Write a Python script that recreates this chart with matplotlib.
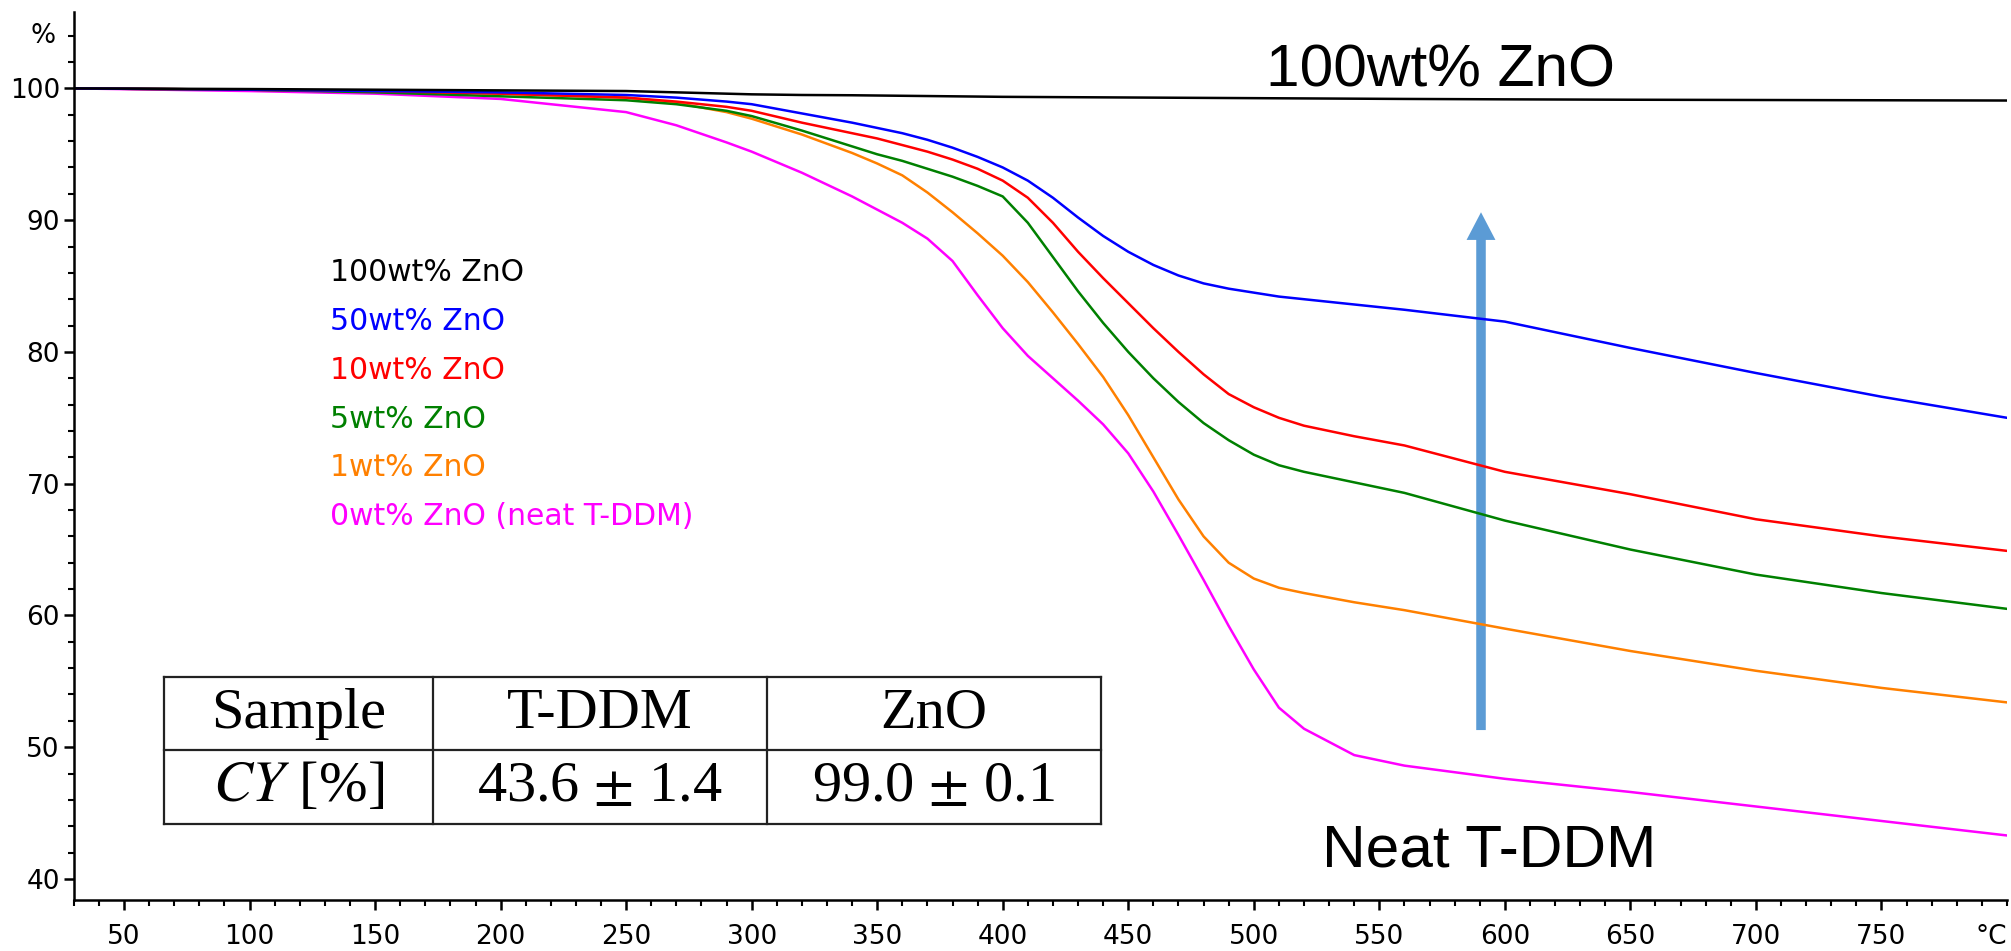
import matplotlib
matplotlib.use("Agg")
import matplotlib.pyplot as plt
from matplotlib.ticker import MultipleLocator, FixedLocator

# temperature grid (deg C) and mass (%)
temps = [30, 100, 150, 200, 250, 270, 290, 300, 320, 340, 350, 360, 370, 380, 390,
         400, 410, 420, 430, 440, 450, 460, 470, 480, 490, 500, 510, 520, 540, 560,
         600, 650, 700, 750, 800]

zno_100 = [100, 99.95, 99.9, 99.85, 99.8, 99.7, 99.6, 99.55, 99.5, 99.48, 99.46, 99.44, 99.42, 99.4, 99.38,
           99.36, 99.35, 99.34, 99.33, 99.32, 99.31, 99.3, 99.29, 99.28, 99.27, 99.26, 99.25, 99.24, 99.22, 99.2,
           99.17, 99.14, 99.12, 99.1, 99.08]
zno_50 = [100, 99.9, 99.8, 99.7, 99.5, 99.3, 99.0, 98.8, 98.1, 97.4, 97.0, 96.6, 96.1, 95.5, 94.8,
          94.0, 93.0, 91.7, 90.2, 88.8, 87.6, 86.6, 85.8, 85.2, 84.8, 84.5, 84.2, 84.0, 83.6, 83.2,
          82.3, 80.3, 78.4, 76.6, 75.0]
zno_10 = [100, 99.9, 99.8, 99.6, 99.3, 99.0, 98.6, 98.3, 97.4, 96.6, 96.2, 95.7, 95.2, 94.6, 93.9,
          93.0, 91.7, 89.8, 87.6, 85.6, 83.7, 81.8, 80.0, 78.3, 76.8, 75.8, 75.0, 74.4, 73.6, 72.9,
          70.9, 69.2, 67.3, 66.0, 64.9]
zno_5 = [100, 99.9, 99.7, 99.4, 99.1, 98.8, 98.3, 97.9, 96.8, 95.6, 95.0, 94.5, 93.9, 93.3, 92.6,
         91.8, 89.8, 87.2, 84.6, 82.2, 80.0, 78.0, 76.2, 74.6, 73.3, 72.2, 71.4, 70.9, 70.1, 69.3,
         67.2, 65.0, 63.1, 61.7, 60.5]
zno_1 = [100, 99.9, 99.8, 99.6, 99.3, 98.9, 98.2, 97.7, 96.5, 95.1, 94.3, 93.4, 92.1, 90.6, 89.0,
         87.3, 85.3, 83.0, 80.6, 78.1, 75.2, 72.0, 68.8, 66.0, 64.0, 62.8, 62.1, 61.7, 61.0, 60.4,
         59.0, 57.3, 55.8, 54.5, 53.4]
zno_0 = [100, 99.8, 99.6, 99.2, 98.2, 97.2, 95.9, 95.2, 93.6, 91.8, 90.8, 89.8, 88.6, 86.9, 84.3,
         81.8, 79.7, 78.0, 76.3, 74.5, 72.3, 69.4, 66.1, 62.7, 59.2, 55.9, 53.0, 51.4, 49.4, 48.6,
         47.6, 46.6, 45.5, 44.4, 43.3]

labels = ["100wt% ZnO", "50wt% ZnO", "10wt% ZnO", "5wt% ZnO", "1wt% ZnO", "0wt% ZnO (neat T-DDM)"]
colors = ["black", "#0000ff", "#ff0000", "#008000", "#ff8000", "#ff00ff"]
curves = [zno_100, zno_50, zno_10, zno_5, zno_1, zno_0]

x_ticks = list(range(50, 751, 50))
y_ticks = list(range(40, 101, 10))

table_header = ["Sample", "T-DDM", "ZnO"]
table_row = ["$CY$ [%]", "43.6 $\\pm$ 1.4", "99.0 $\\pm$ 0.1"]

plt.rcParams['mathtext.fontset'] = 'stix'

fig = plt.figure(figsize=(20.11, 9.51), dpi=100)
ax = fig.add_axes([0.0367, 0.0536, 0.9613, 0.9338])

# draw bottom curve first, black on top
for vals, c in reversed(list(zip(curves, colors))):
    ax.plot(temps, vals, color=c, lw=1.8, solid_joinstyle='round')

ax.set_xlim(30, 800)
ax.set_ylim(38.4, 105.8)
for s in ['top', 'right']:
    ax.spines[s].set_visible(False)
for s in ['left', 'bottom']:
    ax.spines[s].set_linewidth(1.8)

ax.xaxis.set_major_locator(FixedLocator(x_ticks))
ax.xaxis.set_minor_locator(MultipleLocator(10))
ax.yaxis.set_major_locator(FixedLocator(y_ticks))
ax.yaxis.set_minor_locator(MultipleLocator(2))
ax.set_xticklabels([str(t) for t in x_ticks])
ax.set_yticklabels([str(t) for t in y_ticks])
ax.tick_params(which='major', direction='out', length=7, width=1.8, labelsize=19)
ax.tick_params(which='minor', direction='out', length=4.5, width=1.5)
ax.tick_params(axis='x', which='major', pad=10)
ax.tick_params(axis='y', which='major', pad=3)

# unit labels
ax.annotate("%", xy=(30, 104), xycoords='data', xytext=(-13, 0), textcoords='offset points',
            ha='right', va='center', fontsize=19)
ax.annotate("°C", xy=(800, 0), xycoords=('data', 'axes fraction'), xytext=(0, -17),
            textcoords='offset points', ha='right', va='top', fontsize=19)

# coloured legend text
for i, (lab, c) in enumerate(zip(labels, colors)):
    ax.text(132, 86.0 - i * 3.7, lab, color=c, fontsize=21.5, va='center', ha='left')

# big annotations
ax.text(505, 100.15, "100wt% ZnO", fontsize=43.5, family='Liberation Sans', ha='left', va='baseline')
ax.text(527, 40.95, "Neat T-DDM", fontsize=43.5, family='Liberation Sans', ha='left', va='baseline')

# arrow
ax.arrow(590.5, 51.3, 0, 90.6 - 51.3, width=3.8, head_width=11.5, head_length=2.1,
         length_includes_head=True, color='#5b9bd5', ec='none')

# table of char yield
col_edges = [66, 173, 306, 439]
row_edges = [44.2, 49.8, 55.3]
for yv in row_edges:
    ax.plot([col_edges[0], col_edges[-1]], [yv, yv], color='#222222', lw=1.6)
for xv in col_edges:
    ax.plot([xv, xv], [row_edges[0], row_edges[-1]], color='#222222', lw=1.6)
for j in range(3):
    xc = (col_edges[j] + col_edges[j + 1]) / 2
    ax.text(xc, (row_edges[1] + row_edges[2]) / 2, table_header[j], fontsize=42,
            family='Liberation Serif', ha='center', va='center')
    ax.text(xc, (row_edges[0] + row_edges[1]) / 2, table_row[j], fontsize=42,
            family='Liberation Serif', ha='center', va='center')

fig.savefig("out.png", dpi=100)
